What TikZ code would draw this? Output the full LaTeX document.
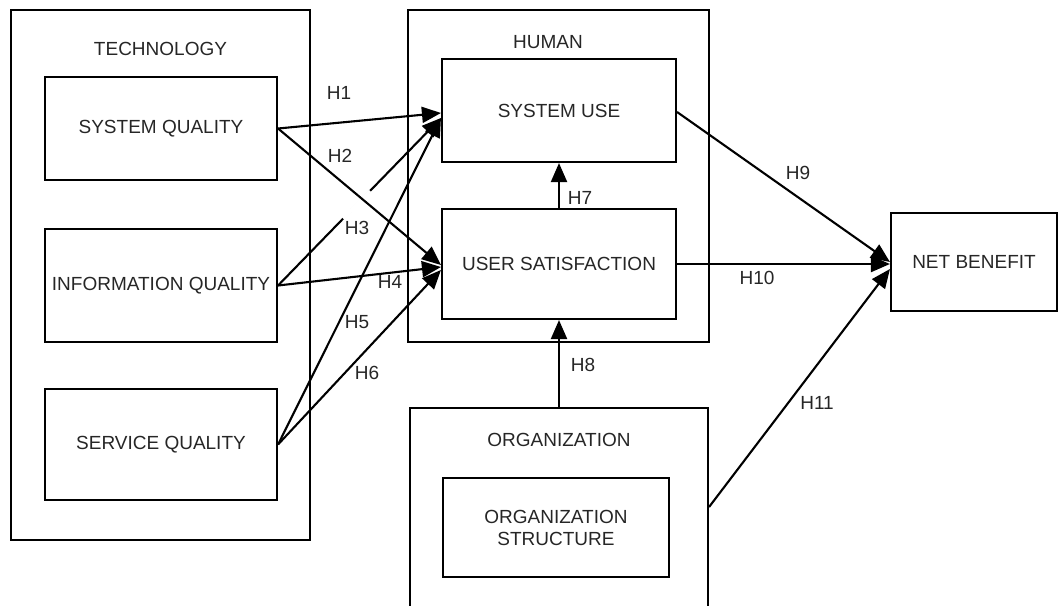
\documentclass[tikz,border=0pt]{standalone}
\usepackage{fontspec}
\setmainfont{Liberation Sans}
\usetikzlibrary{arrows.meta,calc}
\begin{document}
\begin{tikzpicture}[x=1pt,y=-1pt,
  box/.style={draw=black, line width=2.1pt, rectangle, inner sep=0pt, align=center,
    font=\fontsize{19}{22}\selectfont, text=black!85},
  grp/.style={draw=black, line width=2.1pt, rectangle, inner sep=0pt},
  lbl/.style={font=\fontsize{19}{22}\selectfont, text=black!85, inner sep=0pt},
  arr/.style={line width=2.1pt, -{Triangle[length=19pt,width=16pt]}},
]
\useasboundingbox (0,0) rectangle (1060,605);
\begin{scope}
\clip (0,0) rectangle (1060,605);
% groups
\node[grp, minimum width=299pt, minimum height=530pt] (tech) at (160.5,275) {};
\node[lbl] (techl) at (160.5,49) {TECHNOLOGY};
\node[grp, minimum width=301pt, minimum height=332pt] (human) at (558.5,176) {};
\node[lbl] (humanl) at (548,42) {HUMAN};
\node[grp, minimum width=298pt, minimum height=212pt] (org) at (559,514) {};
\node[lbl] (orgl) at (559,440) {ORGANIZATION};
% boxes
\node[box, minimum width=232pt, minimum height=103pt] (sq) at (161,128.5) {SYSTEM QUALITY};
\node[box, minimum width=232pt, minimum height=113pt] (iq) at (161,285.5) {INFORMATION QUALITY};
\node[box, minimum width=232pt, minimum height=111pt] (svq) at (161,444.5) {SERVICE QUALITY};
\node[box, minimum width=234pt, minimum height=103pt] (su) at (559,110.5) {SYSTEM USE};
\node[box, minimum width=234pt, minimum height=110pt] (us) at (559,264) {USER SATISFACTION};
\node[box, minimum width=226pt, minimum height=99pt] (os) at (556,527.5) {ORGANIZATION\\STRUCTURE};
\node[box, minimum width=166pt, minimum height=98pt] (nb) at (974,262) {NET BENEFIT};
\end{scope}
% connectors
\draw[arr] (iq.east) -- ([yshift=-7.5pt]su.west) coordinate (t3);
\draw[white, line width=3.5pt] ($(iq.east)!0.40!(t3)$) -- ($(iq.east)!0.565!(t3)$);
\draw[arr] (sq.east) -- ([yshift=-2.5pt]su.west);
\draw[arr] (svq.east) -- ([yshift=-7.5pt]su.west);
\draw[arr] (sq.east) -- ([yshift=-1pt]us.west);
\draw[arr] (iq.east) -- ([yshift=-3pt]us.west);
\draw[arr] (svq.east) -- ([yshift=-6pt]us.west);
\draw[arr] (us.north) -- (su.south);
\draw[arr] (org.north) -- (us.south);
\draw[arr] ([yshift=-1.5pt]su.east) -- (nb.west);
\draw[arr] (us.east) -- ([yshift=-2pt]nb.west);
\draw[arr] ([yshift=7pt]org.east) -- ([yshift=-7pt]nb.west);
% labels
\node[lbl] (h1) at (339,93) {H1};
\node[lbl] (h2) at (340,156) {H2};
\node[lbl] (h3) at (357,228) {H3};
\node[lbl] (h4) at (390,282) {H4};
\node[lbl] (h5) at (357,322) {H5};
\node[lbl] (h6) at (367,373) {H6};
\node[lbl] (h7) at (580,198) {H7};
\node[lbl] (h8) at (583,365) {H8};
\node[lbl] (h9) at (798,173) {H9};
\node[lbl] (h10) at (757,278) {H10};
\node[lbl] (h11) at (817,403) {H11};
\end{tikzpicture}
\end{document}
